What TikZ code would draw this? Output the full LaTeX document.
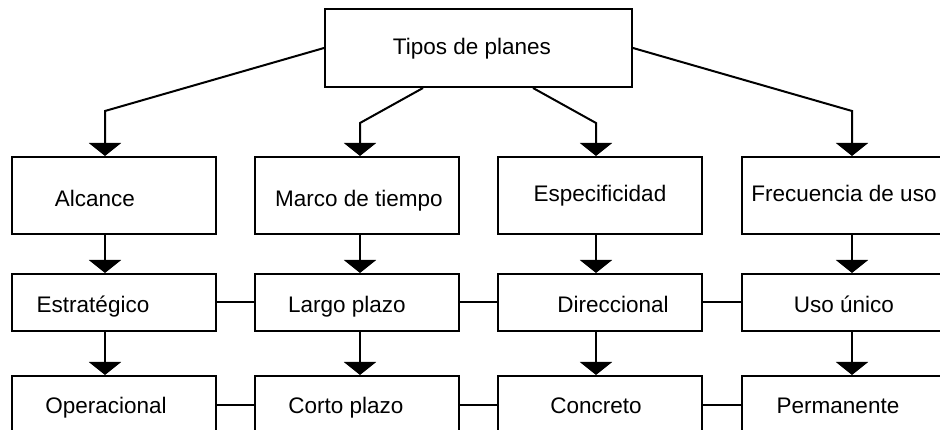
\documentclass[tikz,border=0pt]{standalone}
\usepackage{fontspec}
\setmainfont{Liberation Sans}
\usetikzlibrary{arrows.meta}
\begin{document}
\begin{tikzpicture}[x=1pt,y=-1pt,line width=2pt,
  box/.style={draw,line width=2pt,minimum width=204pt,inner sep=0pt,
    font=\fontsize{22.5}{27}\selectfont,text depth=0pt},
  rowa/.style={box,minimum height=77pt},
  rowb/.style={box,minimum height=57pt,text height=21pt},
  rowc/.style={box,minimum height=57pt,text height=17pt},
  arr/.style={-{Triangle[width=32pt,length=13pt]}}]
\clip (0,0) rectangle (940,430);
% top
\node[box,minimum width=307pt,minimum height=78pt,text height=14pt] (T) at (478.5,48) {Tipos de planes\hspace*{13pt}};
% row 1
\node[rowa,text height=23pt] (A) at (114,195.5) {Alcance\hspace*{38pt}};
\node[rowa,text height=23pt] (B) at (356.5,195.5) {\hspace*{5pt}Marco de tiempo};
\node[rowa,text height=13pt] (C) at (600,195.5) {Especificidad};
\node[rowa,text height=13pt] (D) at (844,195.5) {Frecuencia de uso};
% row 2
\node[rowb] (A2) at (114,302.5) {Estratégico\hspace*{42pt}};
\node[rowb] (B2) at (356.5,302.5) {Largo plazo\hspace*{19pt}};
\node[rowb] (C2) at (600,302.5) {\hspace*{26pt}Direccional};
\node[rowb] (D2) at (844,302.5) {Uso único};
% row 3
\node[rowc] (A3) at (114,404.5) {Operacional\hspace*{16pt}};
\node[rowc] (B3) at (356.5,404.5) {Corto plazo\hspace*{21pt}};
\node[rowc] (C3) at (600,404.5) {Concreto\hspace*{8pt}};
\node[rowc] (D3) at (844,404.5) {Permanente\hspace*{12pt}};
% bend points
\coordinate (k1) at (105,111);
\coordinate (k2) at (360,123);
\coordinate (k3) at (596,123);
\coordinate (k4) at (852,111);
\coordinate (s2) at (423,87);
\coordinate (s3) at (533,87);
% connectors from top
\draw[arr] (T.west) -- (k1) -- (k1 |- A.north);
\draw[arr] (T.south -| s2) -- (k2) -- (k2 |- B.north);
\draw[arr] (T.south -| s3) -- (k3) -- (k3 |- C.north);
\draw[arr] (T.east) -- (k4) -- (k4 |- D.north);
% vertical arrows
\draw[arr] (k1 |- A.south) -- (k1 |- A2.north);
\draw[arr] (k2 |- B.south) -- (k2 |- B2.north);
\draw[arr] (k3 |- C.south) -- (k3 |- C2.north);
\draw[arr] (k4 |- D.south) -- (k4 |- D2.north);
\draw[arr] (k1 |- A2.south) -- (k1 |- A3.north);
\draw[arr] (k2 |- B2.south) -- (k2 |- B3.north);
\draw[arr] (k3 |- C2.south) -- (k3 |- C3.north);
\draw[arr] (k4 |- D2.south) -- (k4 |- D3.north);
% horizontal links
\draw (A2) -- (B2);
\draw (B2) -- (C2);
\draw (C2) -- (D2);
\draw (A3) -- (B3);
\draw (B3) -- (C3);
\draw (C3) -- (D3);
\end{tikzpicture}
\end{document}
